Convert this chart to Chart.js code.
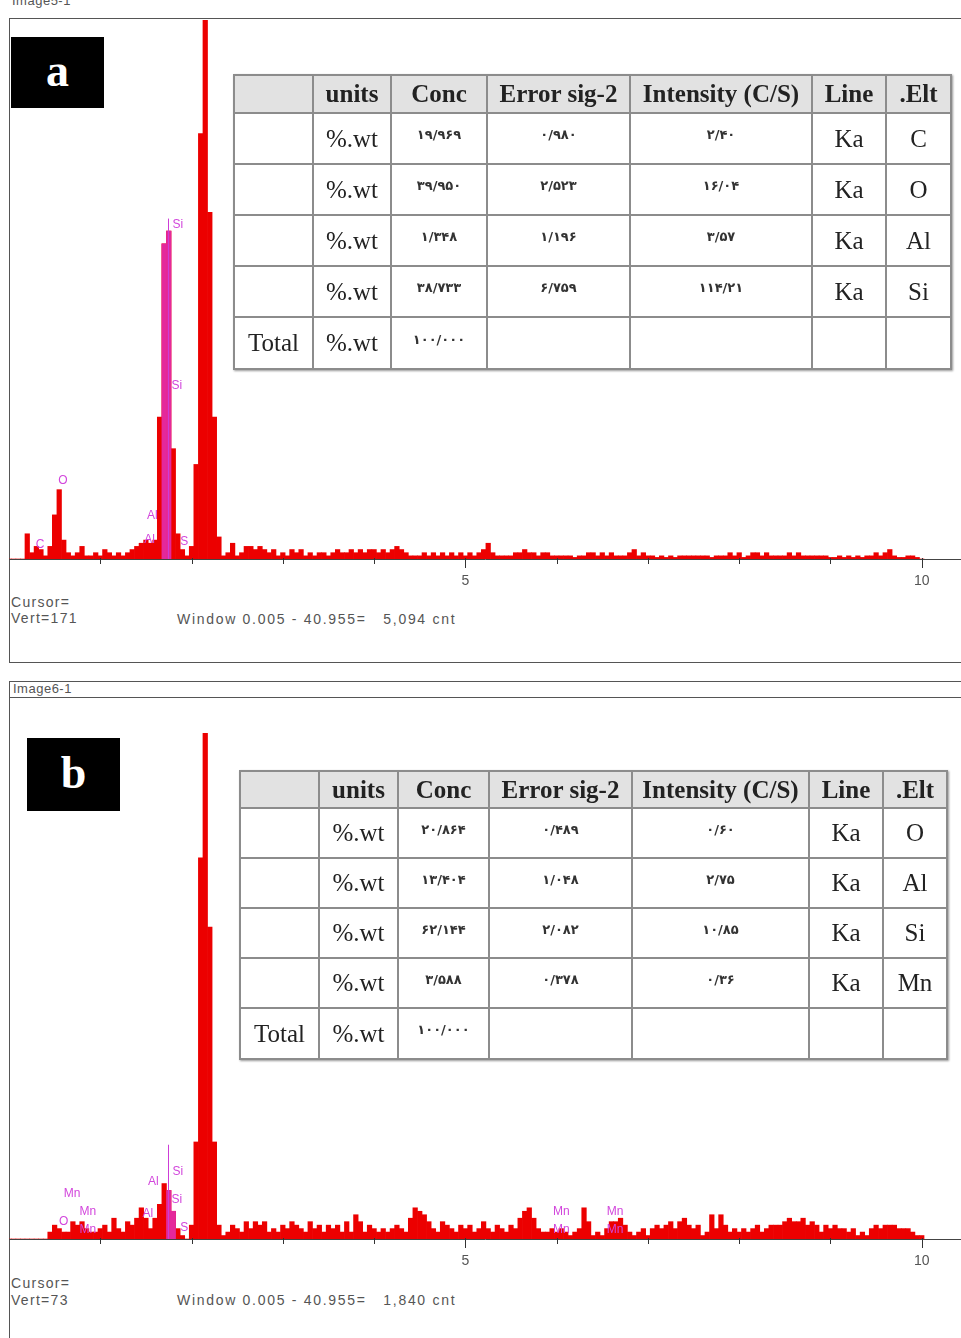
<!DOCTYPE html>
<html>
<head>
<meta charset="utf-8">
<script src="https://cdn.jsdelivr.net/npm/chart.js@4.4.1/dist/chart.umd.min.js"></script>
<style>
  body { margin: 0; background: #fff; }
  #page { position: relative; width: 961px; height: 1338px; overflow: hidden; background: #fff;
          font-family: "Liberation Sans", Arial, sans-serif; }
  .hline { position: absolute; height: 0; border-top: 1px solid #555; }
  .vline { position: absolute; width: 0; border-left: 1px solid #555; }
  .caption { position: absolute; font-size: 13px; color: #555; letter-spacing: 0.5px; }
  .tag { position: absolute; background: #000; color: #fff; text-align: center; z-index: 2;
         font: bold 46px "Liberation Serif", "Times New Roman", serif; }
  .status { position: absolute; font-size: 14px; line-height: 16px; color: #555; letter-spacing: 1.3px; white-space: pre; }
  .status.win { letter-spacing: 1.7px; }
  canvas { position: absolute; left: 0; z-index: 1; }
  table.eds { position: absolute; z-index: 2; border-collapse: collapse; table-layout: fixed; background: #fff;
              font-family: "Liberation Serif", "Times New Roman", serif; color: #222; box-shadow: 1px 1px 2px #999; }
  table.eds th, table.eds td { border: 2px solid #8c8c8c; text-align: center; padding: 0; font-size: 25px; }
  table.eds th { background: #e2e2e2; font-weight: bold; }
  table.eds td.fa { font-family: "DejaVu Sans", sans-serif; font-weight: bold; font-size: 13px; padding-bottom: 8px; color: #333; }
</style>
</head>
<body>
<div id="page">
  <!-- panel a frame -->
  <div class="caption" style="left:12px;top:-7px;">Image5-1</div>
  <div class="hline" style="left:9px;top:18px;width:952px;"></div>
  <div class="vline" style="left:9px;top:18px;height:644px;"></div>
  <div class="hline" style="left:9px;top:662px;width:952px;"></div>
  <div class="tag" style="left:11px;top:37px;width:93px;height:71px;line-height:68px;">a</div>
  <canvas id="specA" width="961" height="590" style="top:18px;width:961px;height:590px;"></canvas>
  <table class="eds" id="tableA" style="left:233px;top:74px;width:717px;"></table>
  <div class="status" style="left:11px;top:594px;">Cursor=</div>
  <div class="status" style="left:11px;top:610px;">Vert=171</div>
  <div class="status win" style="left:177px;top:611px;">Window 0.005 - 40.955=   5,094 cnt</div>

  <!-- panel b frame -->
  <div class="hline" style="left:9px;top:681px;width:952px;"></div>
  <div class="caption" style="left:13px;top:681px;">Image6-1</div>
  <div class="hline" style="left:9px;top:697px;width:952px;"></div>
  <div class="vline" style="left:9px;top:681px;height:657px;"></div>
  <div class="tag" style="left:27px;top:738px;width:93px;height:73px;line-height:70px;">b</div>
  <canvas id="specB" width="961" height="591" style="top:697px;width:961px;height:591px;"></canvas>
  <table class="eds" id="tableB" style="left:239px;top:770px;width:707px;"></table>
  <div class="status" style="left:11px;top:1275px;">Cursor=</div>
  <div class="status" style="left:11px;top:1292px;">Vert=73</div>
  <div class="status win" style="left:177px;top:1292px;">Window 0.005 - 40.955=   1,840 cnt</div>
</div>

<script>
// energy grid (keV) and axis
const binStartKeV = 0;
const binWidthKeV = 0.05;
const xAxisMaxKeV = 10.43;
const axisLabelKeV = [5, 10];

// spectrum a (counts per 0.05 keV bin, 0 - 10 keV)
const countsA = [
  0, 0, 0, 0, 8, 2, 4, 3, 1, 4,
  14, 22, 6, 2, 1, 2, 4, 1, 1, 2,
  1, 3, 2, 1, 2, 1, 2, 3, 4, 5,
  6, 5, 6, 45, 100, 104, 35, 8, 3, 1,
  4, 30, 135, 171, 110, 45, 7, 1, 2, 5,
  1, 2, 4, 4, 3, 4, 3, 2, 3, 1,
  2, 1, 3, 2, 3, 1, 2, 1, 2, 2,
  1, 2, 3, 2, 2, 3, 2, 3, 2, 3,
  3, 2, 3, 2, 3, 4, 3, 2, 1, 1,
  1, 2, 1, 2, 1, 2, 1, 2, 1, 2,
  1, 2, 1, 2, 3, 5, 2, 1, 1, 1,
  1, 2, 2, 3, 2, 2, 1, 2, 2, 1,
  1, 1, 1, 1, 0.5, 1, 1, 2, 2, 1,
  2, 1, 2, 1, 1, 1, 2, 3, 1, 2,
  1, 1, 0.5, 1, 0.5, 1, 0.5, 1, 1, 1,
  1, 1, 1, 1, 0.5, 1, 1, 1, 2, 1,
  2, 0.5, 1, 2, 2, 1, 2, 1, 1, 1,
  1, 2, 1, 2, 1, 1, 1, 1, 1, 1,
  0.5, 0.5, 1, 0.5, 1, 0.5, 1, 0.5, 1, 1,
  2, 1, 2, 3, 1, 0.5, 0.5, 1, 1, 0.5, 0
];
// spectrum b
const countsB = [
  0, 0, 0, 0, 0, 0, 0, 0, 0, 1,
  2, 1.5, 1, 1, 2.5, 2, 2.5, 1.5, 1, 1,
  1.5, 2, 1, 3, 1.5, 1, 2.5, 2, 3, 4.5,
  3, 1.5, 3, 5, 8, 7, 4, 1.5, 0.5, 0,
  2, 14, 55, 73, 45, 14, 2, 0.5, 1, 2,
  1.5, 1, 2.5, 1.5, 2.5, 2, 2.5, 1, 1.5, 1,
  2, 1.5, 2.5, 2, 1.5, 1, 2.5, 1.5, 2, 1,
  2, 1.5, 2, 1, 2.5, 1, 3.5, 2.5, 1, 2,
  1.5, 1, 1.5, 1, 1.5, 2, 1.5, 1, 3, 4.5,
  4, 3.5, 2.5, 1.5, 1, 2.5, 2, 1.5, 1, 2,
  1.5, 2, 1, 1.5, 2.5, 1.5, 1, 2, 1.5, 1,
  2, 1.5, 3, 4, 4.5, 3, 1.5, 1, 1, 1.5,
  1, 1.5, 1, 0.5, 1, 1.5, 4.5, 2.5, 0.5, 1,
  0.5, 1.5, 2.5, 2.5, 3, 2, 1, 0.5, 1, 1.5,
  0.5, 1.5, 2, 1.5, 2, 2.5, 1.5, 2.5, 3, 2,
  1.5, 2, 0.5, 1, 3.5, 1.5, 3.5, 2, 1, 1.5,
  1, 1.5, 1, 1.5, 2, 1, 1.5, 2, 2, 2,
  2.5, 3, 2.5, 2.5, 3, 2, 2.5, 2, 1, 2,
  1.5, 2, 1.5, 1.5, 1, 1.5, 0.5, 1, 0.5, 1.5,
  2, 1.5, 2, 2, 2, 1.5, 1.5, 1.5, 1, 0.5, 0.5
];
const fullScaleA = 171;
const fullScaleB = 73;

// highlighted Si window (pink)
const siWindowKeVA = [1.70, 1.75];
const siWindowCountsA = [100, 104];
const siWindowKeVB = [1.75, 1.80];
const siWindowCountsB = [7, 4];

// peak labels (element, energy keV, label height in counts)
const labelTextA = ['C', 'O', 'Al', 'Al', 'Si', 'Si', 'S'];
const labelKeVA = [0.34, 0.59, 1.57, 1.54, 1.85, 1.84, 1.92];
const labelCountsA = [4.4, 25, 13.6, 6, 106, 55, 5.4];
const markerKeVA = [1.74];
const markerTopA = [108];

const labelTextB = ['Mn', 'Mn', 'O', 'Mn', 'Al', 'Si', 'Al', 'Si', 'S', 'Mn', 'Mn', 'Mn', 'Mn'];
const labelKeVB = [0.69, 0.865, 0.6, 0.865, 1.58, 1.85, 1.52, 1.84, 1.92, 6.05, 6.05, 6.64, 6.64];
const labelCountsB = [6.6, 3.9, 2.5, 1.3, 8.2, 9.7, 3.6, 5.6, 1.6, 3.9, 1.3, 3.9, 1.3];
const markerKeVB = [1.74];
const markerTopB = [13.6];

// quantification tables
const tableHeaders = ['', 'units', 'Conc', 'Error sig-2', 'Intensity (C/S)', 'Line', '.Elt'];
const elementsA = ['C', 'O', 'Al', 'Si'];
const concA = ['۱۹/۹۶۹', '۳۹/۹۵۰', '۱/۳۴۸', '۳۸/۷۳۳'];
const errorA = ['۰/۹۸۰', '۲/۵۲۳', '۱/۱۹۶', '۶/۷۵۹'];
const intensityA = ['۲/۴۰', '۱۶/۰۴', '۳/۵۷', '۱۱۴/۲۱'];
const elementsB = ['O', 'Al', 'Si', 'Mn'];
const concB = ['۲۰/۸۶۴', '۱۳/۴۰۴', '۶۲/۱۴۴', '۳/۵۸۸'];
const errorB = ['۰/۴۸۹', '۱/۰۴۸', '۲/۰۸۲', '۰/۳۷۸'];
const intensityB = ['۰/۶۰', '۲/۷۵', '۱۰/۸۵', '۰/۳۶'];
const totalConc = '۱۰۰/۰۰۰';

function buildTable(el, colWidths, headH, rowH, elements, conc, error, intensity) {
  let html = '<colgroup>' + colWidths.map(w => `<col style="width:${w}px">`).join('') + '</colgroup>';
  html += `<tr style="height:${headH}px">` + tableHeaders.map(h => `<th>${h}</th>`).join('') + '</tr>';
  elements.forEach((e, i) => {
    html += `<tr style="height:${rowH}px"><td></td><td>%.wt</td><td class="fa">${conc[i]}</td>` +
            `<td class="fa">${error[i]}</td><td class="fa">${intensity[i]}</td><td>Ka</td><td>${e}</td></tr>`;
  });
  html += `<tr style="height:${rowH + 1}px"><td>Total</td><td>%.wt</td><td class="fa">${totalConc}</td>` +
          '<td></td><td></td><td></td><td></td></tr>';
  el.innerHTML = html;
}
buildTable(document.getElementById('tableA'), [79, 78, 96, 143, 182, 74, 65], 38, 51,
           elementsA, concA, errorA, intensityA);
buildTable(document.getElementById('tableB'), [79, 79, 91, 143, 177, 74, 64], 37, 50,
           elementsB, concB, errorB, intensityB);

// tick marks under the energy axis
const keVTicks = {
  id: 'keVTicks',
  afterDraw(chart) {
    const sx = chart.scales.x, base = chart.chartArea.bottom, ctx = chart.ctx;
    ctx.save();
    ctx.strokeStyle = '#333';
    ctx.lineWidth = 1;
    sx.ticks.forEach(t => {
      if (!Number.isInteger(t.value) || t.value === 0) return;
      const x = Math.round(sx.getPixelForValue(t.value)) + 0.5;
      const len = axisLabelKeV.includes(t.value) ? 9 : 5;
      ctx.beginPath();
      ctx.moveTo(x, base - 1);
      ctx.lineTo(x, base + len);
      ctx.stroke();
    });
    ctx.restore();
  }
};

// element labels and marker lines
const elementLabels = {
  id: 'elementLabels',
  afterDatasetsDraw(chart, args, opts) {
    const {ctx} = chart, sx = chart.scales.x, sy = chart.scales.y;
    ctx.save();
    ctx.strokeStyle = 'rgb(205,60,215)';
    ctx.lineWidth = 1;
    opts.markerKeV.forEach((k, i) => {
      const x = Math.round(sx.getPixelForValue(k)) + 0.5;
      ctx.beginPath();
      ctx.moveTo(x, sy.getPixelForValue(0));
      ctx.lineTo(x, sy.getPixelForValue(opts.markerTop[i]));
      ctx.stroke();
    });
    ctx.fillStyle = 'rgb(210,70,220)';
    ctx.font = '12px "Liberation Sans", Arial, sans-serif';
    ctx.textAlign = 'center';
    ctx.textBaseline = 'middle';
    opts.text.forEach((t, i) => {
      ctx.fillText(t, sx.getPixelForValue(opts.keV[i]), sy.getPixelForValue(opts.counts[i]));
    });
    ctx.restore();
  }
};

function makeSpectrum(id, counts, winKeV, winCounts, fullScale, padTop, labels) {
  const points = counts.map((c, i) => ({ x: +(binStartKeV + i * binWidthKeV).toFixed(2), y: c }));
  const winPoints = winKeV.map((k, i) => ({ x: k, y: winCounts[i] }));
  return new Chart(document.getElementById(id).getContext('2d'), {
    type: 'bar',
    data: {
      datasets: [
        { data: winPoints, backgroundColor: 'rgb(228,40,155)', grouped: false, order: 0 },
        { data: points, backgroundColor: 'rgb(236,0,0)', grouped: false, order: 1 }
      ]
    },
    options: {
      responsive: false,
      animation: false,
      devicePixelRatio: 1,
      layout: { padding: { left: 9, top: padTop, right: 0, bottom: 0 } },
      datasets: { bar: { barPercentage: 1, categoryPercentage: 1, borderWidth: 0 } },
      scales: {
        x: {
          type: 'linear', min: 0, max: xAxisMaxKeV, offset: false,
          grid: { display: false, drawTicks: false, offset: false },
          border: { display: true, color: '#444', width: 1 },
          ticks: {
            stepSize: 1, includeBounds: false, autoSkip: false, maxRotation: 0, padding: 14, color: '#555',
            font: { family: '"Liberation Sans", Arial, sans-serif', size: 14 },
            callback: v => axisLabelKeV.includes(v) ? String(v) : ''
          },
          afterFit: s => { s.height = 49; s.paddingLeft = 0; s.paddingRight = 0; }
        },
        y: { display: false, min: 0, max: fullScale }
      },
      plugins: {
        legend: { display: false },
        tooltip: { enabled: false },
        elementLabels: labels
      }
    },
    plugins: [keVTicks, elementLabels]
  });
}

makeSpectrum('specA', countsA, siWindowKeVA, siWindowCountsA, fullScaleA, 2,
  { text: labelTextA, keV: labelKeVA, counts: labelCountsA, markerKeV: markerKeVA, markerTop: markerTopA });
makeSpectrum('specB', countsB, siWindowKeVB, siWindowCountsB, fullScaleB, 36,
  { text: labelTextB, keV: labelKeVB, counts: labelCountsB, markerKeV: markerKeVB, markerTop: markerTopB });
</script>
</body>
</html>
